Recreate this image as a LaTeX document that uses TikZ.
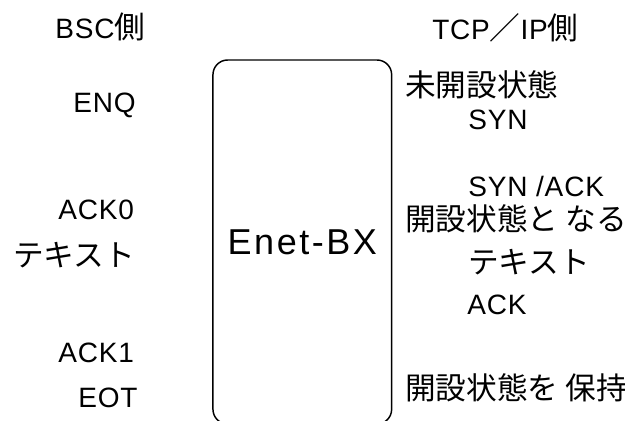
\documentclass[tikz,border=0pt]{standalone}
\usepackage{fontspec}
\setmainfont{Liberation Sans}[LetterSpace=3]
\newfontfamily\jpfont{Noto Sans CJK JP}
\newcommand{\jp}[1]{{\fontsize{23}{27}\jpfont #1}}

\begin{document}
\begin{tikzpicture}[x=0.75pt,y=-0.75pt]
    \tikzset{% styles for the labels and the gateway box
    lbl/.style={inner sep=0pt,anchor=west,font=\fontsize{21}{25}\selectfont},
    gw/.style={draw,line width=1.1pt,rounded corners=11pt,inner sep=0pt,
        minimum width=134pt,minimum height=273pt,
        font=\fontsize{27}{32}\selectfont\addfontfeature{LetterSpace=7}},
    }
    \useasboundingbox (0,0) rectangle (625,421);
    \clip (0,0) rectangle (625,421);

    % Box
    \node[gw] (box) at (302.3,242) {Enet-BX};

    % BSC side
    \node[lbl] (bsc) at (55,27) {BSC\jp{側}};
    \node[lbl] (enq) at (73,105) {ENQ};
    \node[lbl] (ack0) at (58,210) {ACK0};
    \node[lbl] (txtl) at (13,255) {\jp{テキスト}};
    \node[lbl] (ack1) at (58,353) {ACK1};
    \node[lbl] (eot) at (78,398) {EOT};

    % TCP/IP side
    \node[lbl] (tcp) at (432,28) {TCP\jp{／}IP\jp{側}};
    \node[lbl] (closed) at (405,85) {\jp{未開設状態}};
    \node[lbl] (syn) at (468,120) {SYN};
    \node[lbl] (synack) at (468,186) {SYN /ACK};
    \node[lbl] (opened) at (405,219) {\jp{開設状態と なる}};
    \node[lbl] (txtr) at (468,262) {\jp{テキスト}};
    \node[lbl] (ack) at (467,305) {ACK};
    \node[lbl] (keep) at (405,388) {\jp{開設状態を 保持}};

\end{tikzpicture}
\end{document}
